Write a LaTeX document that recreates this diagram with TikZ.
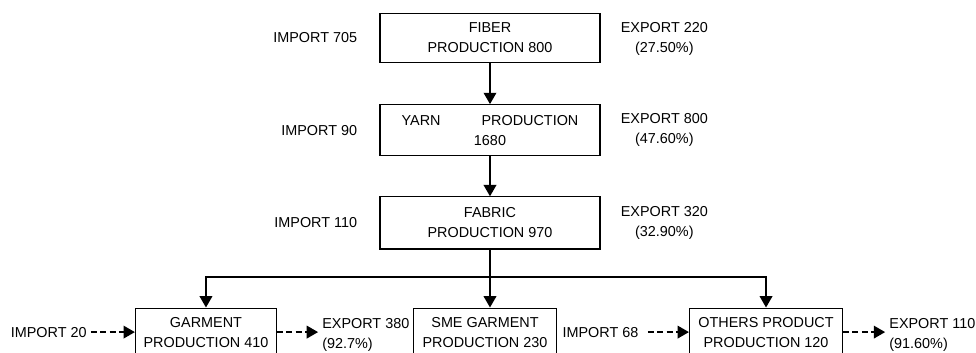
\documentclass[tikz,border=0pt]{standalone}
\usepackage{fontspec}
\setmainfont{Liberation Sans}
\usepackage{tikz}
\usetikzlibrary{positioning}
\usetikzlibrary{arrows.meta}

\tikzset{
  stage/.style={draw, line width=0.9pt, align=center, minimum width=165pt,
    minimum height=38.25pt, inner sep=2pt},
  note/.style={inner sep=3pt, align=center},
  flow/.style={line width=1.1pt, -{Triangle[length=8.5pt,width=9.5pt]}},
  trade/.style={flow, dash pattern=on 4.5pt off 2.5pt},
}

\begin{document}
\begin{tikzpicture}[x=0.75pt, y=-0.75pt, font=\fontsize{10.8}{15}\selectfont]

  \path[use as bounding box] (0,0) rectangle (976,353);
  \clip (0,0) rectangle (976,353);

  % Define nodes
  \node[stage, minimum height=36.75pt] (fiber) at (490,38) {FIBER\\PRODUCTION 800};
  \node[stage, below=30.75pt of fiber] (yarn) {YARN\hspace{30.75pt}PRODUCTION\\1680};
  \node[stage, minimum height=39pt, below=30pt of yarn] (fabric) {FABRIC\\PRODUCTION 970};
  \node[stage, minimum width=107pt, minimum height=36pt, below=43.5pt of fabric, xshift=-3.75pt] (sme) {SME GARMENT\\PRODUCTION 230};
  \node[stage, minimum width=105.75pt, minimum height=36pt, left=102pt of sme] (garment) {GARMENT\\PRODUCTION 410};
  \node[stage, minimum width=114.75pt, minimum height=36pt, right=99pt of sme] (others) {OTHERS PRODUCT\\PRODUCTION 120};
  \coordinate[below=20.5pt of fabric.south] (split);

  \node[note, left=13.5pt of fiber] (imp_fiber) {IMPORT 705};
  \node[note, right=12pt of fiber, yshift=-1pt] (exp_fiber) {EXPORT 220\\(27.50\%)};
  \node[note, left=13.5pt of yarn] (imp_yarn) {IMPORT 90};
  \node[note, right=12pt of yarn] (exp_yarn) {EXPORT 800\\(47.60\%)};
  \node[note, left=13.5pt of fabric] (imp_fabric) {IMPORT 110};
  \node[note, right=12pt of fabric] (exp_fabric) {EXPORT 320\\(32.90\%)};

  \node[note, left=33pt of garment] (imp_garment) {IMPORT 20};
  \node[note, align=left, right=30.75pt of garment, yshift=-2pt] (exp_garment) {EXPORT 380\\(92.7\%)};
  \node[note, inner xsep=7pt, left=30.75pt of others] (imp_others) {IMPORT 68};
  \node[note, align=left, right=31.5pt of others, yshift=-2pt] (exp_others) {EXPORT 110\\(91.60\%)};

  % Connect nodes
  \draw[flow] (fiber) -- (yarn);
  \draw[flow] (yarn) -- (fabric);
  \draw[flow] (fabric.south) -- (fabric.south |- sme.north);
  \draw[flow] (split) -| (garment);
  \draw[flow] (split) -| (others);

  % Trade flows
  \draw[trade] (imp_garment) -- (garment);
  \draw[trade] (garment) -- (garment -| exp_garment.west);
  \draw[trade] (imp_others) -- (others);
  \draw[trade] (others) -- (others -| exp_others.west);

\end{tikzpicture}
\end{document}
